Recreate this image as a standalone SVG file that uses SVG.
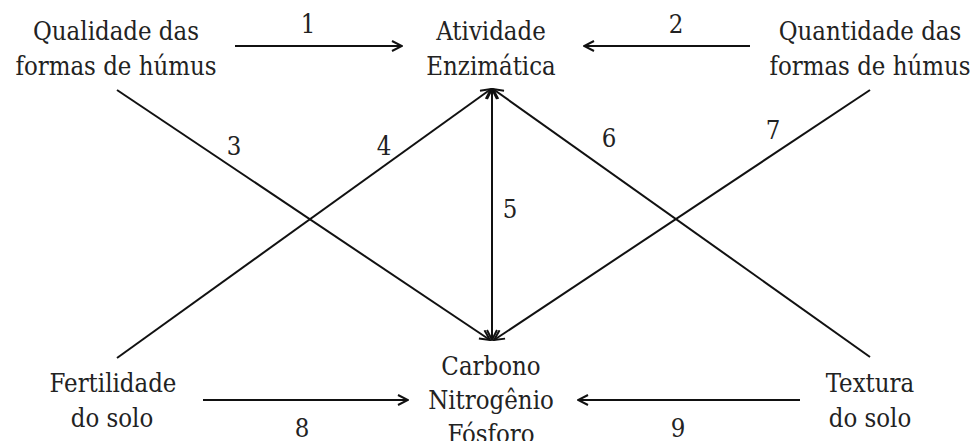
<svg xmlns="http://www.w3.org/2000/svg" width="978" height="441" viewBox="0 0 978 441">
<defs>
<style>
.t{font-size:25.5px;fill:#222;text-anchor:middle}
.c line{stroke:#111;stroke-width:2;fill:none}
.a{marker-end:url(#ah)}
.b{marker-start:url(#ahs);marker-end:url(#ah)}
</style>
<marker id="ah" viewBox="0 0 12 12" refX="11" refY="6" markerWidth="12" markerHeight="12" markerUnits="userSpaceOnUse" orient="auto">
<path d="M1,1 L11,6 L1,11" fill="none" stroke="#111" stroke-width="2"/>
</marker>
<marker id="ahs" viewBox="0 0 12 12" refX="11" refY="6" markerWidth="12" markerHeight="12" markerUnits="userSpaceOnUse" orient="auto-start-reverse">
<path d="M1,1 L11,6 L1,11" fill="none" stroke="#111" stroke-width="2"/>
</marker>
</defs>
<rect width="978" height="441" fill="#fff"/>
<g class="c" id="connectors">
<line class="a" x1="235" y1="46" x2="402" y2="46"/>
<line class="a" x1="750" y1="46" x2="584" y2="46"/>
<line class="a" x1="117" y1="90" x2="490" y2="340"/>
<line class="a" x1="117" y1="358" x2="491" y2="89"/>
<line class="b" x1="492" y1="89" x2="492" y2="340"/>
<line class="a" x1="870" y1="357" x2="493" y2="89"/>
<line class="a" x1="870" y1="90" x2="494" y2="340"/>
<line class="a" x1="203" y1="400" x2="408" y2="400"/>
<line class="a" x1="800" y1="400" x2="578" y2="400"/>
</g>
<g class="t" font-family="DejaVu Serif Condensed, DejaVu Serif, serif" font-stretch="condensed">
<g id="labels">
<text x="308" y="33">1</text>
<text x="676" y="33">2</text>
<text x="234" y="155">3</text>
<text x="384" y="155">4</text>
<text x="510" y="218">5</text>
<text x="609" y="147">6</text>
<text x="773" y="139">7</text>
<text x="302" y="437">8</text>
<text x="678" y="437">9</text>
</g>
<g id="n-qualidade"><text x="116" y="40">Qualidade das</text><text x="116" y="75">formas de húmus</text></g>
<g id="n-atividade"><text x="491" y="40">Atividade</text><text x="491" y="75">Enzimática</text></g>
<g id="n-quantidade"><text x="870" y="40">Quantidade das</text><text x="870" y="75">formas de húmus</text></g>
<g id="n-fertilidade"><text x="113" y="392">Fertilidade</text><text x="112" y="427">do solo</text></g>
<g id="n-carbono"><text x="491" y="375">Carbono</text><text x="491" y="409">Nitrogênio</text><text x="491" y="443">Fósforo</text></g>
<g id="n-textura"><text x="870" y="392">Textura</text><text x="870" y="427">do solo</text></g>
</g>
</svg>
